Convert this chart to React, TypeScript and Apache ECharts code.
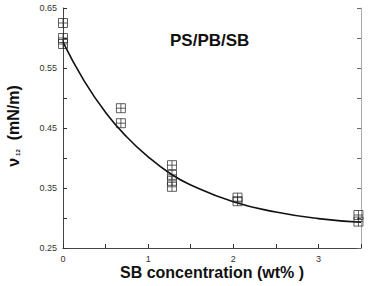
import React, { useEffect, useRef } from "react";
import * as echarts from "echarts";

// measured interfacial tension vs. SB content
const sbConc0 = [0, 0, 0];
const tension0 = [0.625, 0.6, 0.59];
const sbConc1 = [0.68, 0.68];
const tension1 = [0.483, 0.458];
const sbConc2 = [1.28, 1.28, 1.28, 1.28];
const tension2 = [0.388, 0.372, 0.362, 0.352];
const sbConc3 = [2.05, 2.05];
const tension3 = [0.334, 0.328];
const sbConc4 = [3.47, 3.47];
const tension4 = [0.305, 0.294];

// fitted trend line
const fitConc = [0, 0.25, 0.5, 0.75, 1, 1.25, 1.5, 2, 2.5, 3, 3.5];
const fitTension = [0.593, 0.528, 0.476, 0.435, 0.402, 0.375, 0.355, 0.327, 0.31, 0.299, 0.293];

const yTickLabels = ["0.25", "0.35", "0.45", "0.55", "0.65"];
const xTickLabels = ["0", "1", "2", "3"];

const FONT = "Liberation Sans, Arial, sans-serif";
const boxSymbol = "path://M0 0H10V10H0Z M5 0V10 M0 5H10";

export default function App() {
  const ref = useRef<HTMLDivElement>(null);
  useEffect(() => {
    if (!ref.current) return;
    const chart = echarts.init(ref.current, undefined, { renderer: "svg" });
    const pts = [
      [sbConc0, tension0],
      [sbConc1, tension1],
      [sbConc2, tension2],
      [sbConc3, tension3],
      [sbConc4, tension4],
    ].flatMap(([xs, ys]) => xs.map((x, i) => [x, ys[i]]));

    const yLabel = (v: number) => {
      const s = v.toFixed(2);
      return yTickLabels.includes(s) ? s : "";
    };
    const xLabel = (v: number) => {
      const s = String(Math.round(v * 10) / 10);
      return xTickLabels.includes(s) ? s : "";
    };
    const tick = { show: true, inside: true, length: 4, lineStyle: { color: "#333", width: 1 } };

    chart.setOption({
      animation: false,
      backgroundColor: "#fff",
      grid: { left: 63, right: 8, top: 8, bottom: 38 },
      xAxis: {
        type: "value",
        min: 0,
        max: 3.5,
        interval: 0.5,
        axisLine: { lineStyle: { color: "#444", width: 1 } },
        axisTick: tick,
        splitLine: { show: false },
        axisLabel: { formatter: xLabel, fontSize: 9, color: "#333", fontFamily: FONT, margin: 6 },
      },
      yAxis: [
        {
          type: "value",
          min: 0.25,
          max: 0.65,
          interval: 0.05,
          axisLine: { show: true, lineStyle: { color: "#444", width: 1 } },
          axisTick: tick,
          splitLine: { show: false },
          axisLabel: { formatter: yLabel, fontSize: 9, color: "#333", fontFamily: FONT, margin: 6, padding: [6, 0, 0, 0] },
        },
        {
          type: "value",
          position: "right",
          min: 0.25,
          max: 0.65,
          interval: 0.05,
          axisLine: { show: true, lineStyle: { color: "#aaa", width: 1 } },
          axisTick: { ...tick, lineStyle: { color: "#666", width: 1 } },
          splitLine: { show: false },
          axisLabel: { show: false },
        },
      ],
      series: [
        {
          type: "line",
          data: fitConc.map((x, i) => [x, fitTension[i]]),
          smooth: true,
          showSymbol: false,
          lineStyle: { color: "#111", width: 1.6 },
          z: 2,
        },
        {
          type: "scatter",
          data: pts,
          symbol: boxSymbol,
          symbolSize: 9,
          clip: false,
          itemStyle: { color: "rgba(255,255,255,0)", borderColor: "#222", borderWidth: 0.9 },
          z: 3,
        },
      ],
      graphic: [
        {
          type: "text",
          left: 170,
          top: 32,
          style: { text: "PS/PB/SB", font: `bold 17px ${FONT}`, fill: "#111" },
        },
        {
          type: "text",
          x: 212,
          y: 272,
          style: {
            text: "SB concentration (wt% )",
            font: `bold 16px ${FONT}`,
            fill: "#111",
            align: "center",
            verticalAlign: "middle",
          },
        },
        {
          type: "text",
          x: 13,
          y: 126,
          rotation: Math.PI / 2,
          style: {
            text: "{nu|ν}{sub|12}{nu|  (mN/m)}",
            align: "center",
            verticalAlign: "middle",
            fill: "#111",
            rich: {
              nu: { font: `bold 16px ${FONT}`, fill: "#111", verticalAlign: "middle" },
              sub: { font: `bold 6px ${FONT}`, fill: "#111", padding: [10, 0, 0, 2] },
            },
          },
        },
      ],
    });
    return () => chart.dispose();
  }, []);
  return <div ref={ref} style={{ position: "fixed", left: 0, top: 0, width: 369, height: 286 }} />;
}
